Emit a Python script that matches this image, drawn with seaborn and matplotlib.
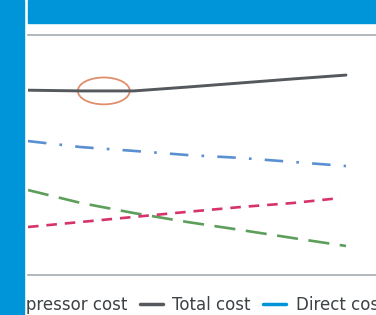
import numpy as np
import pandas as pd
import matplotlib.pyplot as plt
import seaborn as sns
from matplotlib.patches import Rectangle, Ellipse
from matplotlib.lines import Line2D

sns.set_style('white')
plt.rcParams['font.family'] = ['DejaVu Sans']

# data (arbitrary cost units)
steps = [0, 1, 2, 3, 4, 5, 6]
total_cost = [77.0, 76.7, 76.7, 78.3, 80.0, 81.7, 83.3]
direct_cost = [55.8, 53.3, 51.7, 50.0, 48.8, 47.1, 45.4]
other_cost = [35.4, 30.0, 25.8, 22.1, 18.8, 15.4, 12.1]
compressor_cost = [20.0, 22.1, 24.2, 26.3, 28.3, 30.0, 32.1]
legend_labels = ['Compressor cost', 'Total cost', 'Direct cost']

blue = '#0094d8'

fig = plt.figure(figsize=(3.76, 3.15), dpi=100)
W, H = 376, 315

# blue frame bits, drawn above the legend so it gets clipped like the original
fig.patches.append(Rectangle((0, 0), 24 / W, 1, transform=fig.transFigure,
                             color=blue, zorder=6))
fig.patches.append(Rectangle((28 / W, 1 - 22.5 / H), 1, 22.5 / H,
                             transform=fig.transFigure, color=blue, zorder=6))

ax = fig.add_axes([28 / W, 40 / H, 1 - 28 / W, (275 - 35) / H])

sns.lineplot(x=steps, y=total_cost, ax=ax, color='#55595d', lw=2.1)
sns.lineplot(x=steps, y=direct_cost, ax=ax, color='#5a8fd2', lw=1.9,
             linestyle=(0, (7, 5, 1, 5)))
sns.lineplot(x=steps, y=other_cost, ax=ax, color='#5c9e5a', lw=1.9,
             linestyle=(0, (8, 4)))
sns.lineplot(x=steps[:-1] + [5.9], y=compressor_cost, ax=ax, color='#d6336a', lw=1.9,
             linestyle=(0, (4, 3)))

ax.add_patch(Ellipse((1.43, 76.7), 0.98, 11.2, fill=False,
                     edgecolor='#e08e6c', lw=1.3))

ax.set_xlim(0, 348 / 318 * 6)
ax.set_ylim(0, 100)
ax.set_xticks([])
ax.set_yticks([])
for s in ['left', 'right']:
    ax.spines[s].set_visible(False)
for s in ['top', 'bottom']:
    ax.spines[s].set_color('#a3abb2')
    ax.spines[s].set_linewidth(1.2)

handles = [Line2D([], [], color='#d6336a', lw=2.5),
           Line2D([], [], color='#55595d', lw=2.5),
           Line2D([], [], color=blue, lw=2.5)]
fig.legend(handles, legend_labels, loc='center left', ncol=3, frameon=False,
           bbox_to_anchor=(-0.137, 10 / H), fontsize=12, labelcolor='#3d4246',
           handlelength=1.4, handletextpad=0.55, columnspacing=0.75,
           borderaxespad=0)

fig.savefig('out.png', dpi=100)
